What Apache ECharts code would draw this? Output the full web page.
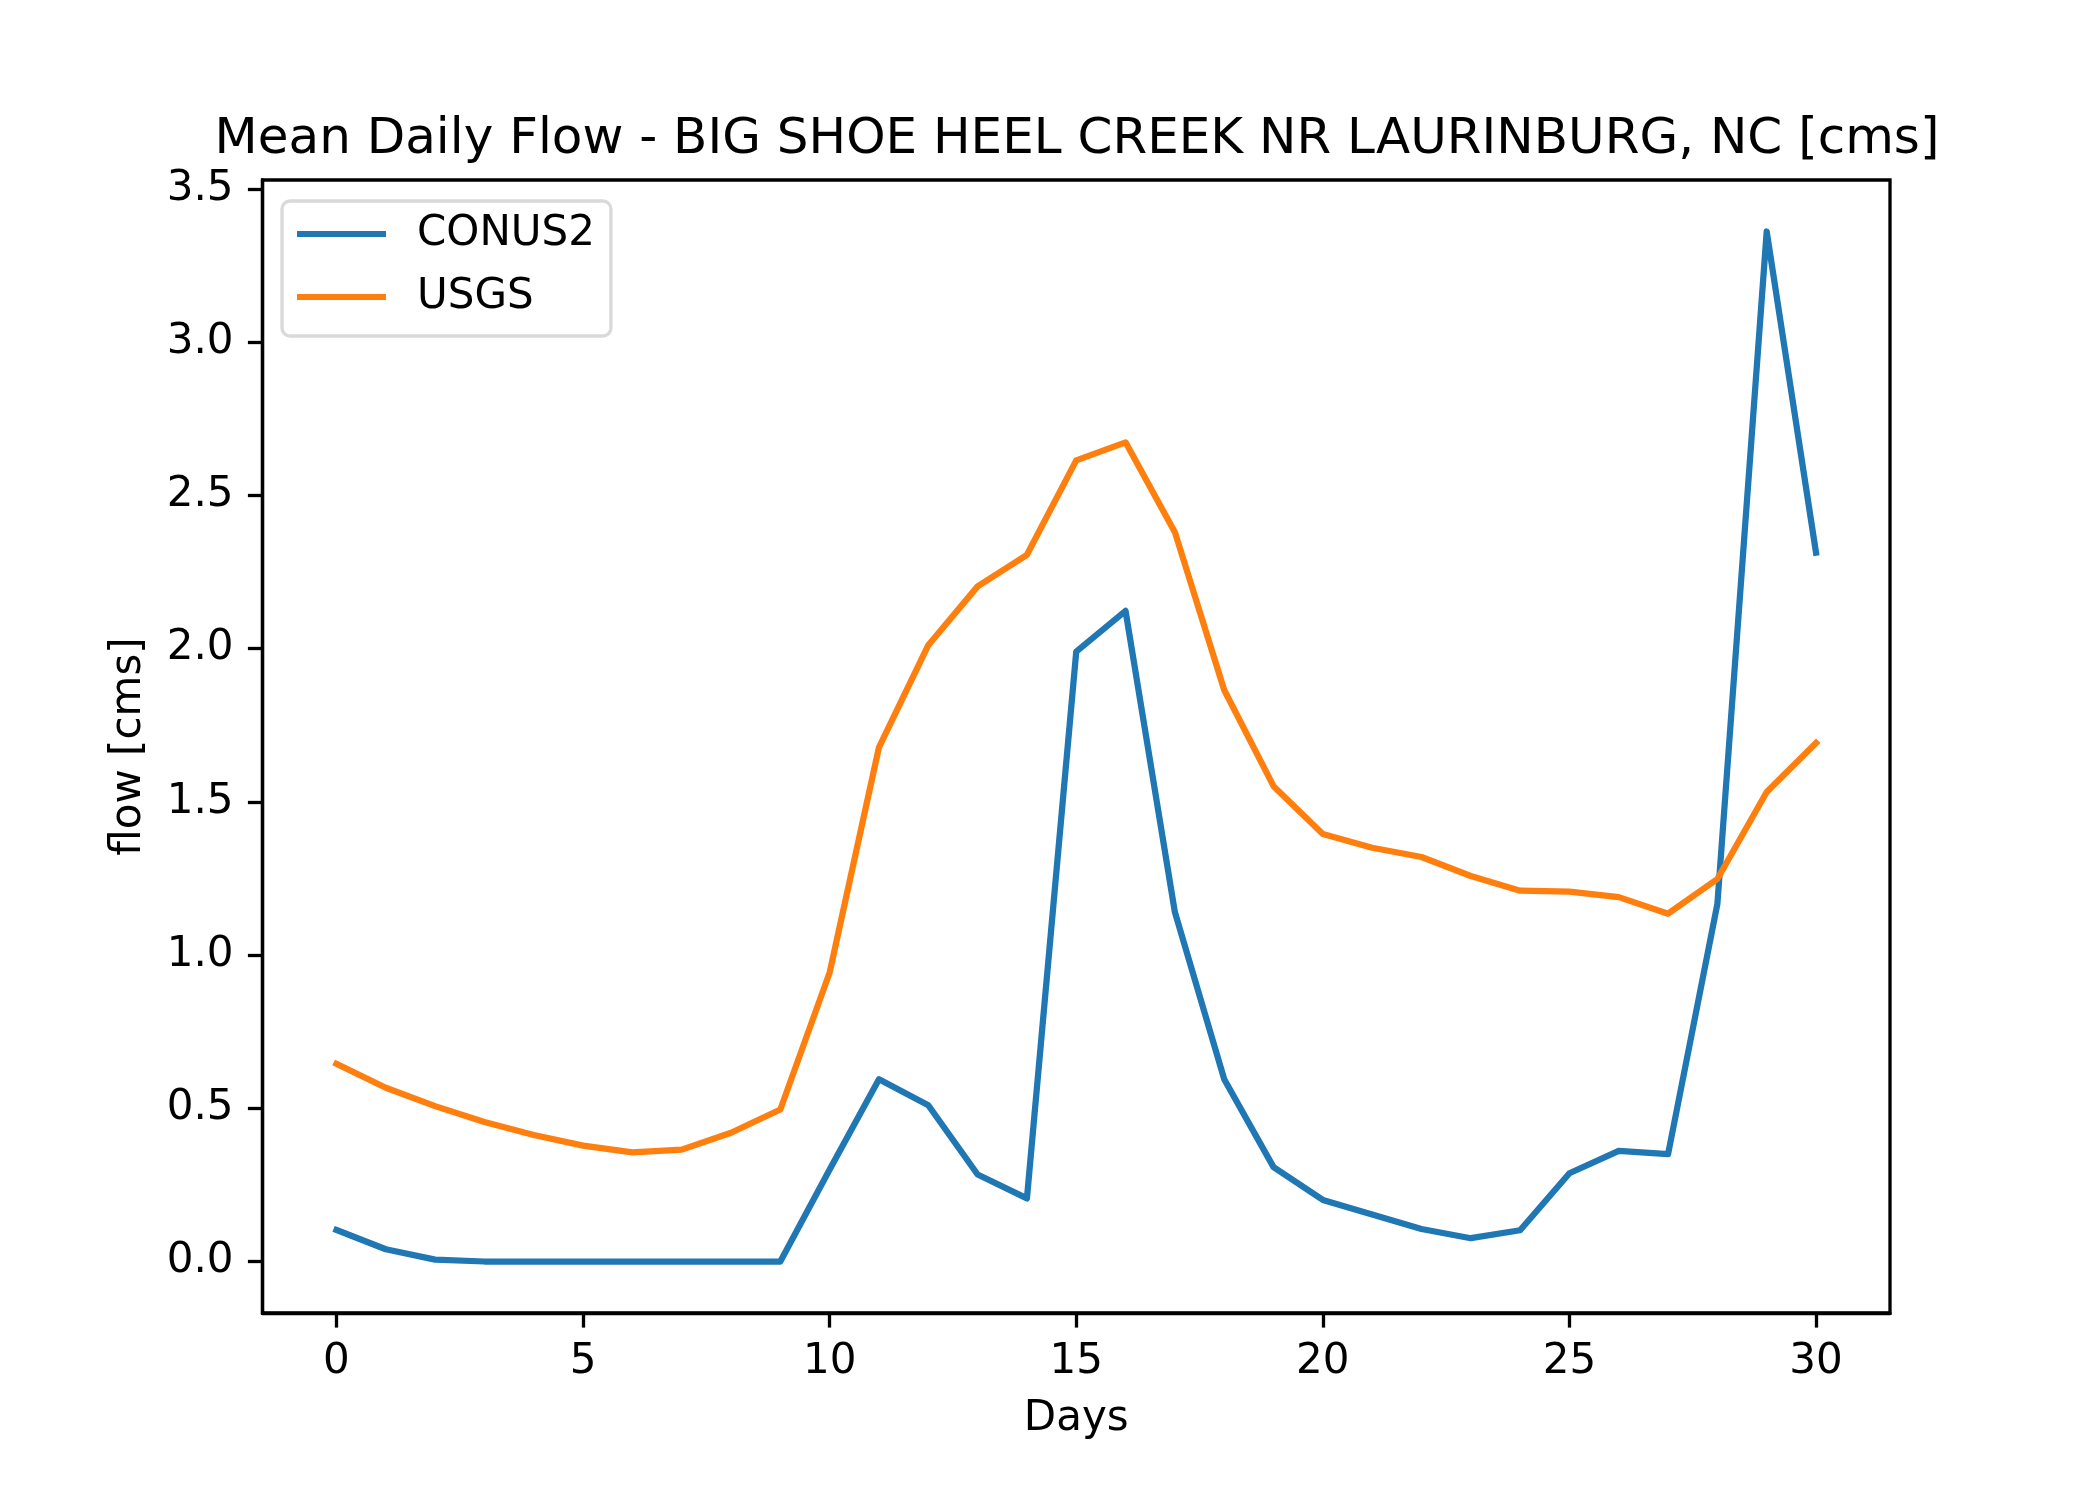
<!DOCTYPE html>
<html>
<head>
<meta charset="utf-8">
<script src="https://cdn.jsdelivr.net/npm/echarts@6/dist/echarts.min.js"></script>
<style>
    html, body { margin: 0; padding: 0; background: #fff; }
    #chart_div { width: 2100px; height: 1500px; }
</style>
</head>
<body>
<div id="chart_div"></div>
<script>
// days along the x axis
var days = [0, 1, 2, 3, 4, 5, 6, 7, 8, 9, 10, 11, 12, 13, 14, 15,
            16, 17, 18, 19, 20, 21, 22, 23, 24, 25, 26, 27, 28, 29, 30];

// mean daily flow [cms]
var conus2 = [0.103, 0.040, 0.006, 0.0, 0.0, 0.0, 0.0, 0.0, 0.0, 0.0,
              0.30, 0.595, 0.51, 0.284, 0.206, 1.99, 2.123, 1.14, 0.595, 0.308,
              0.201, 0.153, 0.106, 0.076, 0.102, 0.288, 0.361, 0.350, 1.167, 3.361,
              2.313];
var usgs = [0.645, 0.567, 0.507, 0.455, 0.413, 0.378, 0.356, 0.365, 0.42, 0.496,
            0.943, 1.678, 2.011, 2.203, 2.306, 2.614, 2.673, 2.380, 1.865, 1.551,
            1.395, 1.350, 1.320, 1.258, 1.210, 1.207, 1.189, 1.135, 1.248, 1.532,
            1.692];

var xTicks = [0, 5, 10, 15, 20, 25, 30];
var yTicks = [0, 0.5, 1.0, 1.5, 2.0, 2.5, 3.0, 3.5];

var seriesNames = ['CONUS2', 'USGS'];
var colors = ['#1f77b4', '#ff7f0e'];

// matplotlib style 5% margins
function padRange(arr){
    var lo = Math.min.apply(null, arr), hi = Math.max.apply(null, arr);
    var p = (hi - lo) * 0.05;
    return [lo - p, hi + p];
}
var xr = padRange(days);
var yr = padRange(conus2.concat(usgs));

function pairs(vals){
    var out = [];
    for(var i = 0; i < days.length; i++){
        out.push([days[i], vals[i]]);
    }
    return out;
}

var font = 'DejaVu Sans';
var axisLineStyle = { color: '#000', width: 3.3 };

var myChart = echarts.init(document.getElementById('chart_div'));
var option = {
    backgroundColor: '#fff',
    animation: false,
    title: {
        text: 'Mean Daily Flow - BIG SHOE HEEL CREEK NR LAURINBURG, NC [cms]',
        left: 1072,
        top: 110,
        textAlign: 'center',
        textStyle: { fontFamily: font, fontSize: 50, fontWeight: 'normal', color: '#000' }
    },
    legend: {
        orient: 'vertical',
        left: 282,
        top: 201,
        icon: 'rect',
        itemWidth: 89,
        itemHeight: 6,
        itemGap: 21,
        padding: [12, 16, 18, 15],
        backgroundColor: '#fff',
        borderColor: '#d9d9d9',
        borderWidth: 3.3,
        borderRadius: 8,
        textStyle: { fontFamily: font, fontSize: 42, color: '#000', padding: [0, 0, 0, 26], lineHeight: 42 },
        data: seriesNames
    },
    grid: {
        left: 262.5,
        right: 210,
        top: 180,
        bottom: 187,
        show: true,
        borderColor: '#000',
        borderWidth: 3.3,
        backgroundColor: 'transparent'
    },
    xAxis: {
        type: 'value',
        min: xr[0],
        max: xr[1],
        name: 'Days',
        nameLocation: 'middle',
        nameGap: 85,
        nameTextStyle: { fontFamily: font, fontSize: 42, color: '#000' },
        axisLine: { show: true, onZero: false, lineStyle: axisLineStyle },
        splitLine: { show: false },
        axisTick: {
            show: true,
            inside: false,
            length: 14.6,
            customValues: xTicks,
            lineStyle: axisLineStyle
        },
        axisLabel: {
            margin: 28,
            customValues: xTicks,
            fontFamily: font,
            fontSize: 42,
            color: '#000'
        }
    },
    yAxis: {
        type: 'value',
        min: yr[0],
        max: yr[1],
        name: 'flow [cms]',
        nameLocation: 'middle',
        nameGap: 112,
        nameTextStyle: { fontFamily: font, fontSize: 42, color: '#000' },
        axisLine: { show: true, onZero: false, lineStyle: axisLineStyle },
        splitLine: { show: false },
        axisTick: {
            show: true,
            inside: false,
            length: 14.6,
            customValues: yTicks,
            lineStyle: axisLineStyle
        },
        axisLabel: {
            margin: 29,
            customValues: yTicks,
            fontFamily: font,
            fontSize: 42,
            color: '#000',
            formatter: function(v){ return v.toFixed(1); }
        }
    },
    series: [
        {
            name: seriesNames[0],
            type: 'line',
            data: pairs(conus2),
            showSymbol: false,
            symbol: 'none',
            color: colors[0],
            lineStyle: { width: 6.25, color: colors[0], cap: 'square', join: 'round' },
            z: 2
        },
        {
            name: seriesNames[1],
            type: 'line',
            data: pairs(usgs),
            showSymbol: false,
            symbol: 'none',
            color: colors[1],
            lineStyle: { width: 6.25, color: colors[1], cap: 'square', join: 'round' },
            z: 3
        }
    ]
};
myChart.setOption(option);
</script>
</body>
</html>
